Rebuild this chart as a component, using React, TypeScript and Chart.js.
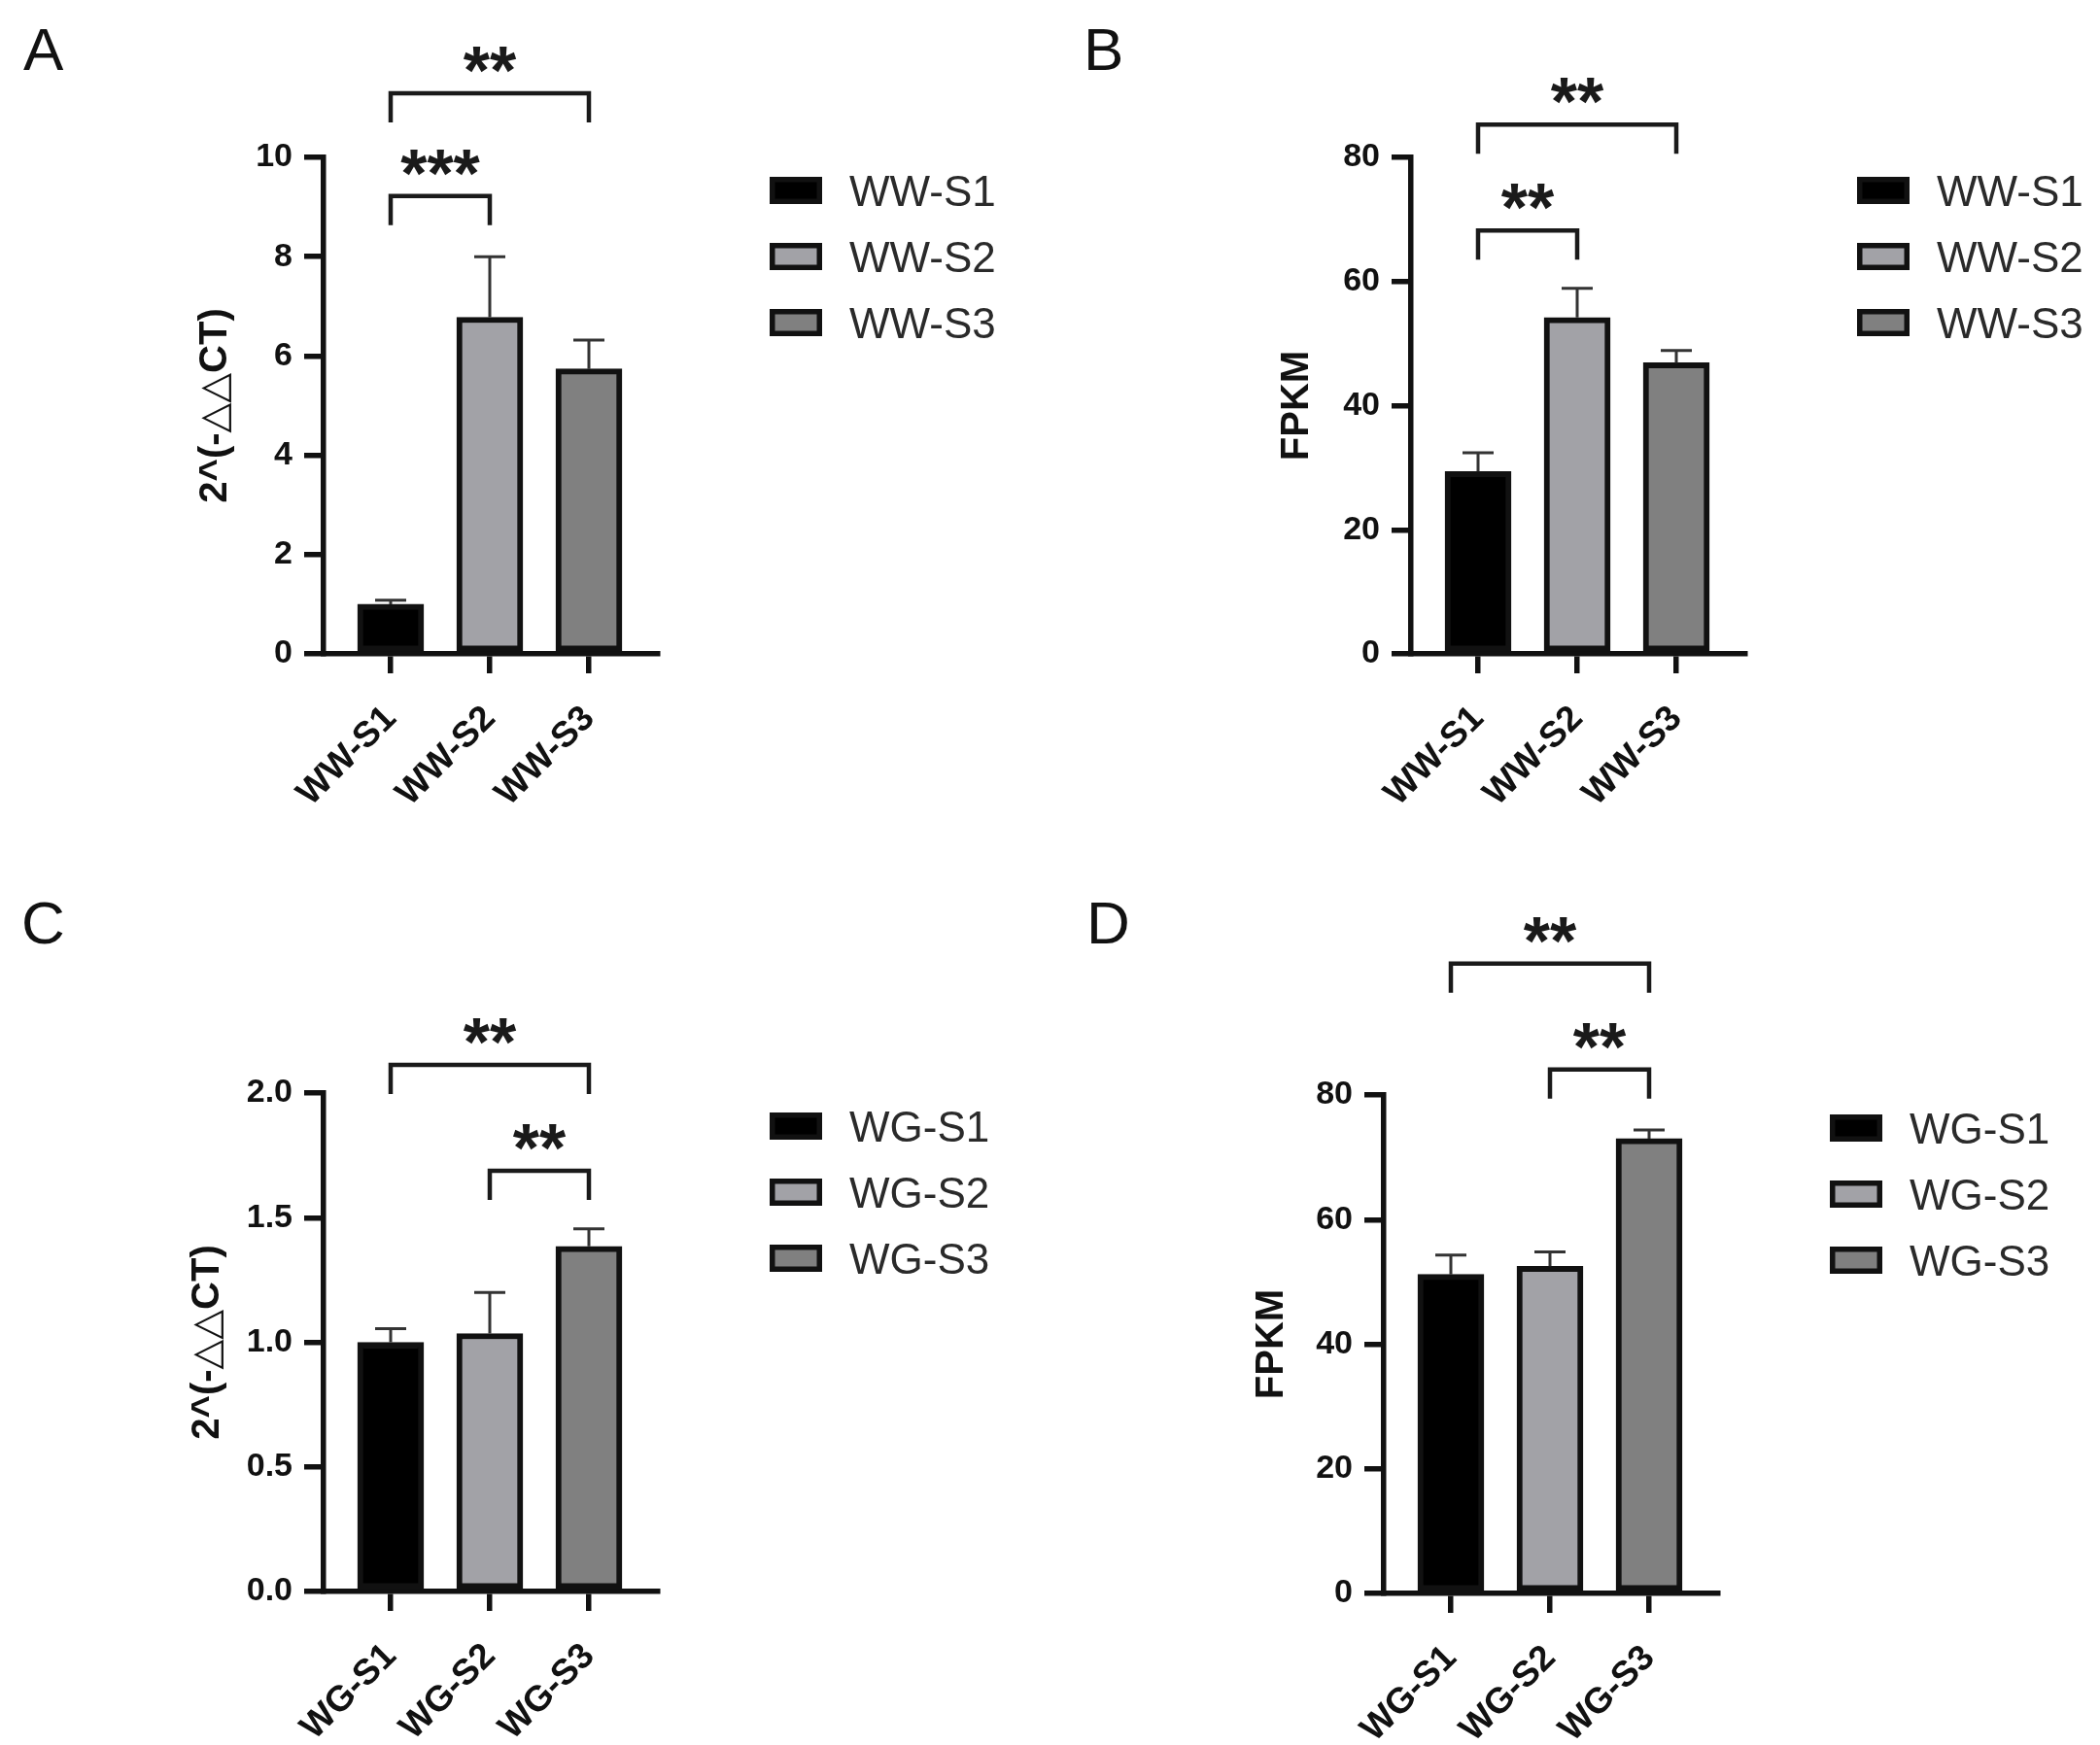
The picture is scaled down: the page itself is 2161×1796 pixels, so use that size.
import React, { useEffect, useRef } from "react";
import { Chart, registerables } from "chart.js";

Chart.register(...registerables);

const FONT = '"Liberation Sans", Arial, "DejaVu Sans", sans-serif';

// ---------- data ----------
const categoriesWW = ["WW-S1", "WW-S2", "WW-S3"];
const categoriesWG = ["WG-S1", "WG-S2", "WG-S3"];

const meanA = [1.0, 6.78, 5.74];
const errA = [1.08, 8.0, 6.32];
const meanB = [29.4, 54.2, 46.9];
const errB = [32.4, 58.9, 48.9];
const meanC = [1.0, 1.035, 1.385];
const errC = [1.055, 1.2, 1.455];
const meanD = [51.2, 52.5, 73.0];
const errD = [54.3, 54.8, 74.4];

const ticksA = [0, 2, 4, 6, 8, 10];
const tickLabelsA = ["0", "2", "4", "6", "8", "10"];
const ticksB = [0, 20, 40, 60, 80];
const tickLabelsB = ["0", "20", "40", "60", "80"];
const ticksC = [0, 0.5, 1.0, 1.5, 2.0];
const tickLabelsC = ["0.0", "0.5", "1.0", "1.5", "2.0"];
const ticksD = [0, 20, 40, 60, 80];
const tickLabelsD = ["0", "20", "40", "60", "80"];

const sigA = [
  { from: 0, to: 1, level: 9.22, label: "***" },
  { from: 0, to: 2, level: 11.29, label: "**" },
];
const sigB = [
  { from: 0, to: 1, level: 68.2, label: "**" },
  { from: 0, to: 2, level: 85.3, label: "**" },
];
const sigC = [
  { from: 1, to: 2, level: 1.688, label: "**" },
  { from: 0, to: 2, level: 2.113, label: "**" },
];
const sigD = [
  { from: 1, to: 2, level: 84.1, label: "**" },
  { from: 0, to: 2, level: 101.1, label: "**" },
];

const barColors = ["#000000", "#a2a2a7", "#808080"];

// ---------- layout (pixels) ----------
const panels = [
  { letter: "A", cats: categoriesWW, mean: meanA, err: errA, sig: sigA, ticks: ticksA, tickLabels: tickLabelsA, title: "2^(-\u25B3\u25B3CT)",
    left: 0, top: 0, w: 1080, h: 898, axisX: 333, plotW: 344, plotTop: 162, plotBottom: 673, titleX: 222, letterX: 24, letterY: 72 },
  { letter: "B", cats: categoriesWW, mean: meanB, err: errB, sig: sigB, ticks: ticksB, tickLabels: tickLabelsB, title: "FPKM",
    left: 1080, top: 0, w: 1081, h: 898, axisX: 372, plotW: 344, plotTop: 162, plotBottom: 673, titleX: 255, letterX: 35, letterY: 72 },
  { letter: "C", cats: categoriesWG, mean: meanC, err: errC, sig: sigC, ticks: ticksC, tickLabels: tickLabelsC, title: "2^(-\u25B3\u25B3CT)",
    left: 0, top: 898, w: 1080, h: 898, axisX: 333, plotW: 344, plotTop: 227, plotBottom: 740, titleX: 214, letterX: 22, letterY: 73 },
  { letter: "D", cats: categoriesWG, mean: meanD, err: errD, sig: sigD, ticks: ticksD, tickLabels: tickLabelsD, title: "FPKM",
    left: 1080, top: 898, w: 1081, h: 898, axisX: 344, plotW: 344, plotTop: 229, plotBottom: 742, titleX: 229, letterX: 38, letterY: 73 },
];

const SLOT = 102; // px between bar centres
const FIRST_GAP = 69; // px from y axis to first bar centre
const AXIS_W = 5.5;

const decorPlugin = {
  id: "decor",
  afterDatasetsDraw(chart: any, _args: any, opts: any) {
    const { ctx } = chart;
    const xs = chart.scales.x;
    const ys = chart.scales.y;
    ctx.save();
    // error bars (upper only)
    ctx.strokeStyle = "#333333";
    ctx.lineWidth = 3;
    opts.err.forEach((e: number, i: number) => {
      const px = xs.getPixelForValue(i);
      const pTop = ys.getPixelForValue(e);
      const pMean = ys.getPixelForValue(opts.mean[i]);
      ctx.beginPath();
      ctx.moveTo(px, pMean);
      ctx.lineTo(px, pTop);
      ctx.moveTo(px - 16, pTop);
      ctx.lineTo(px + 16, pTop);
      ctx.stroke();
    });
    // significance brackets
    ctx.strokeStyle = "#1a1a1a";
    ctx.lineWidth = 4.5;
    ctx.fillStyle = "#1a1a1a";
    ctx.font = `bold 70px ${FONT}`;
    ctx.textAlign = "center";
    ctx.textBaseline = "alphabetic";
    opts.sig.forEach((s: any) => {
      const x1 = xs.getPixelForValue(s.from);
      const x2 = xs.getPixelForValue(s.to);
      const yy = ys.getPixelForValue(s.level);
      ctx.beginPath();
      ctx.moveTo(x1, yy + 30);
      ctx.lineTo(x1, yy);
      ctx.lineTo(x2, yy);
      ctx.lineTo(x2, yy + 30);
      ctx.stroke();
      ctx.fillText(s.label, (x1 + x2) / 2, yy + 1);
    });
    ctx.restore();
  },
  afterDraw(chart: any, _args: any, opts: any) {
    const { ctx, chartArea } = chart;
    ctx.save();
    // legend
    const lx = chartArea.left + 459;
    opts.cats.forEach((c: string, i: number) => {
      const cy = chartArea.top + 34 + i * 68;
      ctx.fillStyle = "#111111";
      ctx.fillRect(lx, cy - 14, 54, 28);
      ctx.fillStyle = barColors[i];
      ctx.fillRect(lx + 5.5, cy - 8.5, 43, 17);
      ctx.fillStyle = "#2a2a2a";
      ctx.font = `44px ${FONT}`;
      ctx.textAlign = "left";
      ctx.textBaseline = "alphabetic";
      ctx.fillText(c, lx + 82, cy + 15.8);
    });
    // panel letter
    ctx.fillStyle = "#111111";
    ctx.font = `62px ${FONT}`;
    ctx.textAlign = "left";
    ctx.textBaseline = "alphabetic";
    ctx.fillText(opts.letter, opts.letterX, opts.letterY);
    ctx.restore();
  },
};

function Panel({ p }: { p: any }) {
  const ref = useRef<HTMLCanvasElement | null>(null);
  useEffect(() => {
    if (!ref.current) return;
    const xMin = -FIRST_GAP / SLOT;
    const xMax = xMin + p.plotW / SLOT;
    const chart = new Chart(ref.current, {
      type: "bar",
      data: {
        datasets: [
          {
            data: p.mean.map((v: number, i: number) => ({ x: i, y: v })),
            backgroundColor: barColors,
            borderColor: "#111111",
            borderWidth: 6,
            borderSkipped: false,
            barThickness: 68,
          } as any,
        ],
      },
      options: {
        responsive: false,
        animation: false,
        devicePixelRatio: 1,
        layout: {
          padding: { left: 0, top: p.plotTop, right: p.w - p.axisX - p.plotW, bottom: 0 },
        },
        plugins: {
          legend: { display: false },
          tooltip: { enabled: false },
          decor: { err: p.err, mean: p.mean, sig: p.sig, cats: p.cats, letter: p.letter, letterX: p.letterX, letterY: p.letterY },
        } as any,
        scales: {
          x: {
            type: "linear",
            min: xMin,
            max: xMax,
            bounds: "data",
            offset: false,
            afterBuildTicks: (s: any) => {
              s.ticks = p.cats.map((_: string, i: number) => ({ value: i }));
            },
            ticks: {
              autoSkip: false,
              minRotation: 45,
              maxRotation: 45,
              padding: 25,
              color: "#111111",
              font: { family: FONT, size: 37, weight: "bold" },
              callback: (_v: any, i: number) => p.cats[i],
            },
            grid: { offset: false, drawOnChartArea: false, drawTicks: true, tickLength: 20, color: "#111111", lineWidth: AXIS_W },
            border: { display: true, color: "#111111", width: AXIS_W },
            afterFit: (s: any) => {
              s.height = p.h - p.plotBottom;
            },
          } as any,
          y: {
            type: "linear",
            min: p.ticks[0],
            max: p.ticks[p.ticks.length - 1],
            afterBuildTicks: (s: any) => {
              s.ticks = p.ticks.map((v: number) => ({ value: v }));
            },
            ticks: {
              padding: 12,
              color: "#111111",
              font: { family: FONT, size: 34, weight: "bold" },
              callback: (_v: any, i: number) => p.tickLabels[i],
            },
            grid: { drawOnChartArea: false, drawTicks: true, tickLength: 20, color: "#111111", lineWidth: AXIS_W },
            border: { display: true, color: "#111111", width: AXIS_W },
            title: {
              display: true,
              text: p.title,
              color: "#111111",
              font: { family: FONT, size: 40, weight: "bold" },
              padding: { top: p.titleX - 24, bottom: 0 },
            },
            afterFit: (s: any) => {
              s.width = p.axisX;
            },
          } as any,
        },
      },
      plugins: [decorPlugin as any],
    });
    return () => chart.destroy();
  }, [p]);
  return (
    <canvas
      ref={ref}
      width={p.w}
      height={p.h}
      style={{ position: "absolute", left: p.left, top: p.top, width: p.w, height: p.h }}
    />
  );
}

export default function App() {
  return (
    <div style={{ position: "absolute", left: 0, top: 0, width: 2161, height: 1796, background: "#ffffff", overflow: "hidden" }}>
      {panels.map((p) => (
        <Panel key={p.letter} p={p} />
      ))}
    </div>
  );
}
